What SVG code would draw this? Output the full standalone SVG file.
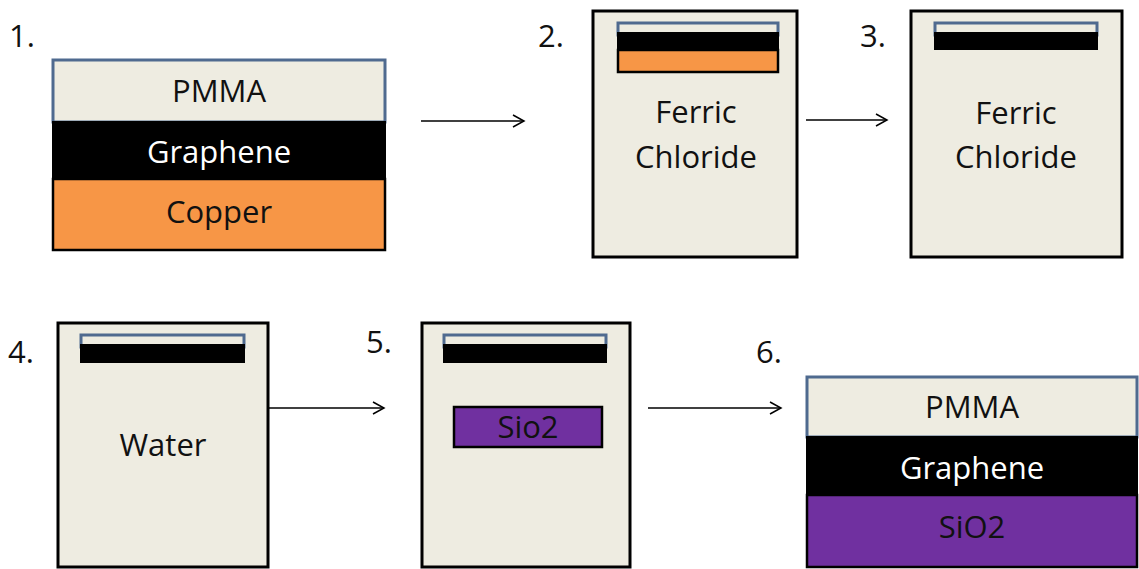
<svg xmlns="http://www.w3.org/2000/svg" width="1139" height="569" viewBox="0 0 1139 569">
<defs>
<style>
text{font-family:"Open Sans","Noto Sans",sans-serif;font-size:31px;text-anchor:middle;fill:#111}
.num{text-anchor:start}
.beaker{fill:#EEECE1;stroke:#000;stroke-width:3}
.pmma{fill:#EEECE1;stroke:#4F6A8F;stroke-width:3}
.gr{fill:#000;stroke:#000;stroke-width:2}
.cu{fill:#F79646;stroke:#000;stroke-width:2.5}
.si{fill:#7030A0;stroke:#000;stroke-width:2.5}
.w{fill:#fff}
.conn{stroke:#000;stroke-width:1.5;fill:none}
</style>
<marker id="ah" markerWidth="14" markerHeight="14" refX="12" refY="7" orient="auto" markerUnits="userSpaceOnUse">
<polyline points="1,1 12,7 1,13" fill="none" stroke="#000" stroke-width="1.5"/>
</marker>
</defs>
<rect width="1139" height="569" fill="#fff"/>

<g id="step1">
<text class="num" x="9" y="47">1.</text>
<rect class="pmma" x="53" y="60" width="332" height="62"/>
<rect class="gr" x="53" y="122" width="332" height="57" stroke="#4F6A8F"/>
<rect class="cu" x="53" y="179" width="332" height="71"/>
<text x="219" y="102">PMMA</text>
<text x="219" y="163" class="w">Graphene</text>
<text x="219" y="223" fill="#2a1405">Copper</text>
</g>

<g id="step2">
<text class="num" x="538" y="47">2.</text>
<rect class="beaker" x="593" y="11" width="204" height="246"/>
<rect class="pmma" x="618" y="23" width="160" height="12"/>
<rect class="gr" x="618" y="33" width="160" height="17"/>
<rect class="cu" x="618" y="50" width="160" height="22"/>
<text x="696" y="123">Ferric</text>
<text x="696" y="168">Chloride</text>
</g>

<g id="step3">
<text class="num" x="860" y="47">3.</text>
<rect class="beaker" x="911" y="11" width="211" height="246"/>
<rect class="pmma" x="935" y="23" width="162" height="12"/>
<rect class="gr" x="935" y="33" width="162" height="16"/>
<text x="1016" y="124">Ferric</text>
<text x="1016" y="168">Chloride</text>
</g>

<g id="step4">
<text class="num" x="8" y="363">4.</text>
<rect class="beaker" x="58" y="323" width="210" height="244"/>
<rect class="pmma" x="81" y="335" width="163" height="12"/>
<rect class="gr" x="81" y="345" width="163" height="17"/>
<text x="163" y="456">Water</text>
</g>

<g id="step5">
<text class="num" x="366" y="353">5.</text>
<rect class="beaker" x="422" y="323" width="208" height="244"/>
<rect class="pmma" x="444" y="335" width="162" height="12"/>
<rect class="gr" x="444" y="345" width="162" height="17"/>
<rect class="si" x="454" y="407" width="148" height="40"/>
<text x="528" y="438" fill="#2e0b4a">Sio2</text>
</g>

<g id="step6">
<text class="num" x="756" y="363">6.</text>
<rect class="pmma" x="807" y="377" width="330" height="60"/>
<rect class="gr" x="807" y="437" width="330" height="58"/>
<rect class="si" x="807" y="495" width="330" height="72"/>
<text x="972" y="418">PMMA</text>
<text x="972" y="479" class="w">Graphene</text>
<text x="972" y="538" fill="#2e0b4a">SiO2</text>
</g>

<g id="connectors">
<line class="conn" x1="421" y1="121" x2="524" y2="121" marker-end="url(#ah)"/>
<line class="conn" x1="806" y1="120" x2="887" y2="120" marker-end="url(#ah)"/>
<line class="conn" x1="269" y1="408" x2="384" y2="408" marker-end="url(#ah)"/>
<line class="conn" x1="648" y1="408" x2="781" y2="408" marker-end="url(#ah)"/>
</g>
</svg>
